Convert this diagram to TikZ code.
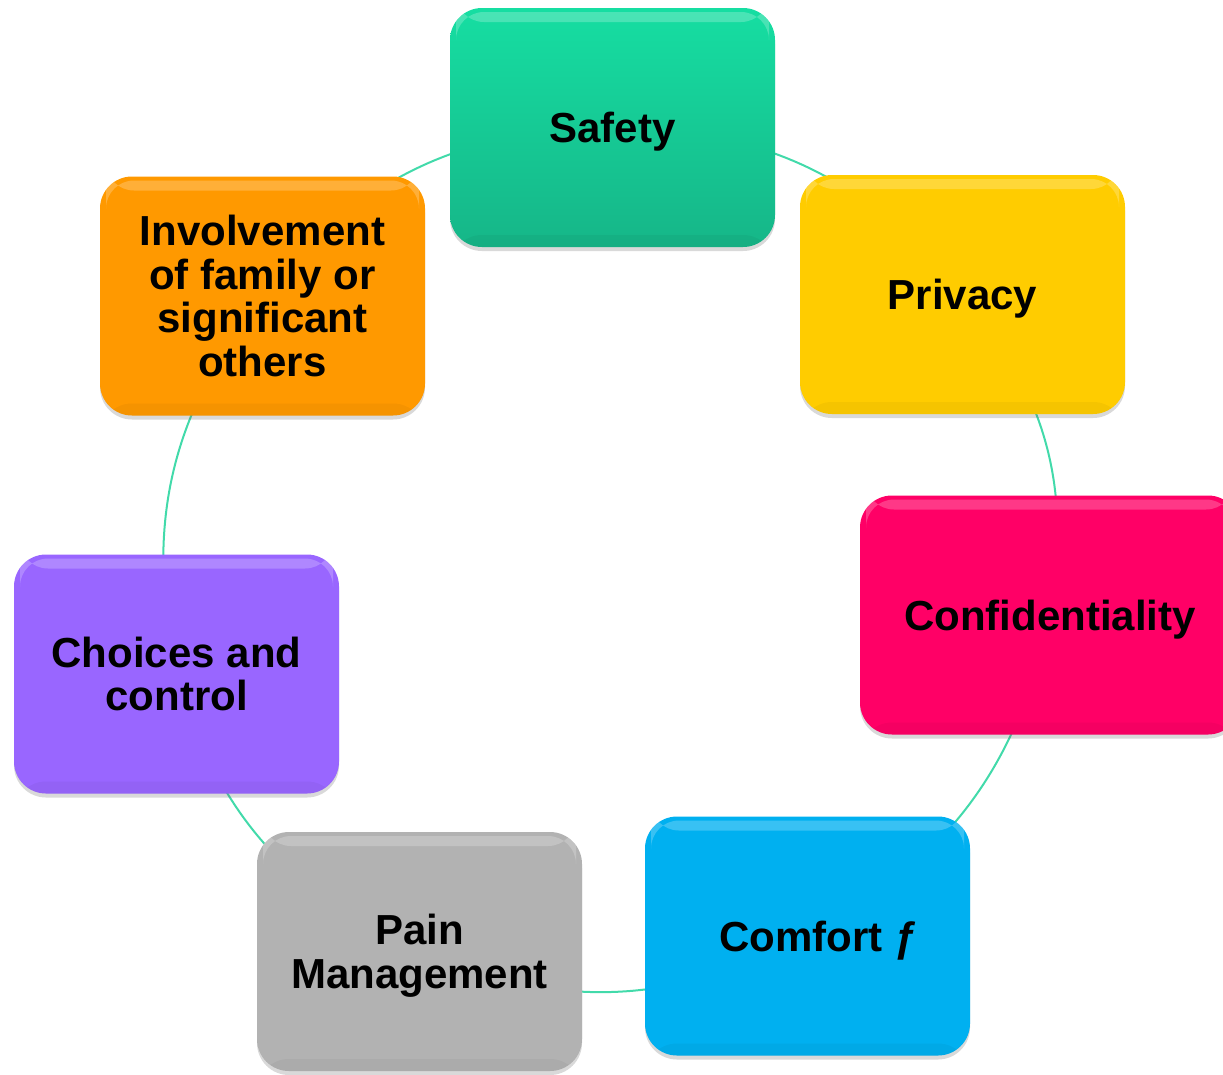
\documentclass[tikz,border=0pt]{standalone}
\usepackage{fontspec}
\setmainfont{Liberation Sans}
\usetikzlibrary{shadows,backgrounds}
\definecolor{cSafetyTop}{RGB}{22,222,162}
\definecolor{cSafetyBot}{RGB}{22,182,136}
\definecolor{cPrivacy}{RGB}{255,204,0}
\definecolor{cConf}{RGB}{255,0,102}
\definecolor{cComfort}{RGB}{0,176,240}
\definecolor{cPain}{RGB}{178,178,178}
\definecolor{cChoice}{RGB}{153,102,255}
\definecolor{cInvolve}{RGB}{255,153,0}
\definecolor{cLink}{RGB}{66,218,170}
\tikzset{
  card/.style={rectangle, rounded corners=32pt, minimum width=325pt, minimum height=239pt,
    align=center, inner sep=0pt, text depth=0pt,
    font=\bfseries\fontsize{42}{43.5}\selectfont, text=black,
    drop shadow={shadow xshift=0pt, shadow yshift=-4pt, opacity=0.25, fill=black!60},
    path picture={
      \fill[white, opacity=0.22, rounded corners=28pt]
        ([xshift=6pt,yshift=-4pt]path picture bounding box.north west) rectangle
        ([xshift=-6pt,yshift=-14pt]path picture bounding box.north east);
      \fill[black, opacity=0.04]
        ([yshift=12pt]path picture bounding box.south west) rectangle
        (path picture bounding box.south east);
    }},
  link/.style={draw=cLink, line width=2pt}
}
\begin{document}
\begin{tikzpicture}[x=1pt, y=-1pt]
\useasboundingbox (0,0) rectangle (1223,1074);
\node[card, top color=cSafetyTop, bottom color=cSafetyBot] (safety) at (612.5,127.5) {Safety};
\node[card, fill=cPrivacy] (privacy) at (962.5,294.5) {Privacy};
\node[card, fill=cConf, minimum width=380pt] (conf) at (1050,615) {Confidentiality};
\node[card, fill=cComfort] (comfort) at (807.5,936) {\hspace*{22pt}Comfort ƒ};
\node[card, fill=cPain] (pain) at (419.5,951.5) {Pain\\Management};
\node[card, fill=cChoice] (choice) at (176.5,674) {Choices and\\control};
\node[card, fill=cInvolve] (involve) at (262.5,296) {Involvement\\of family or\\significant\\others};
\begin{scope}[on background layer]
\draw[link] (safety.center) to[bend left=25] (privacy.center);
\draw[link] (privacy.center) to[bend left=25] (conf.center);
\draw[link] (conf.center) to[bend left=25] (comfort.center);
\draw[link] (comfort.center) to[bend left=25] (pain.center);
\draw[link] (pain.center) to[bend left=25] (choice.center);
\draw[link] (choice.center) to[bend left=25] (involve.center);
\draw[link] (involve.center) to[bend left=25] (safety.center);
\end{scope}
\end{tikzpicture}
\end{document}
